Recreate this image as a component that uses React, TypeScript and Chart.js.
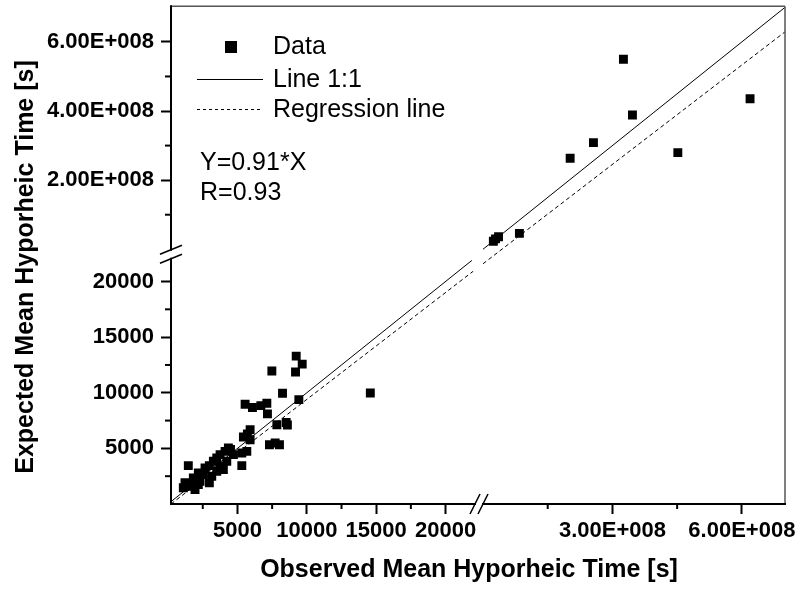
import React, { useEffect, useRef } from "react";
import { Chart, registerables } from "chart.js";

Chart.register(...registerables);

const FONT = "'Liberation Sans', Arial, Helvetica, sans-serif";

// ---- data: lower (small) segment, seconds ----
const lowObserved = [
  9235, 9668, 9186, 7480, 8248, 9426, 14578, 5552, 6081, 6686, 7119, 7163, 7841, 8513, 8600,
  7307, 7718, 8029, 5913, 5718, 5430, 5913, 5675, 5314, 5314, 4347, 4708, 4108, 3747, 3509,
  3264, 2975, 3509, 2975, 2542, 2181, 1820, 1458, 1220, 1098, 1581, 1942, 3985, 4231, 3747,
  2664, 3148, 2181, 4500, 2303,
];
const lowExpected = [
  13292, 12577, 11861, 11950, 9956, 9384, 9983, 8971, 8668, 8847, 9061, 8104, 7120, 7326, 7100,
  5331, 5483, 5331, 6673, 6288, 6020, 5779, 4732, 4589, 3453, 5036, 4437, 4732, 4437, 4141,
  3837, 3453, 2943, 1905, 2648, 2800, 2352, 3453, 1905, 1458, 1601, 1306, 3095, 3837, 3390,
  3247, 2496, 1753, 4900, 2048,
];
// ---- data: upper (large) segment, seconds ----
const highObserved = [3.255e8, 3.464e8, 2.56e8, 2.02e8, 4.516e8, 6.19e8, 0.844e8, 0.24e8, 0.36e8, 0.29e8];
const highExpected = [5.5e8, 3.885e8, 3.085e8, 2.635e8, 2.797e8, 4.355e8, 0.459e8, 0.23e8, 0.36e8, 0.3e8];

// ---- reference lines ----
const oneToOneLowX = [210, 21900];
const oneToOneLowY = [210, 21900];
const oneToOneHighX = [0, 7.0e8];
const oneToOneHighY = [0, 7.0e8];
const regressionLowX = [210, 21990];
const regressionLowY = [0, 20920];
const regressionHighX = [0, 7.0e8];
const regressionHighY = [-0.42e8, 6.29e8];

// ---- axis ranges and ticks ----
const lowXRange = [210, 22700];
const lowYRange = [0, 22900];
const highXRange = [0, 7.0e8];
const highYRange = [0, 7.03e8];

const lowTickValues = [5000, 10000, 15000, 20000];
const lowTickLabels = ["5000", "10000", "15000", "20000"];
const lowMinorTicks = [2500, 7500, 12500, 17500];
const highXTickValues = [3e8, 6e8];
const highXTickLabels = ["3.00E+008", "6.00E+008"];
const highXMinorTicks = [1.5e8, 4.5e8];
const highYTickValues = [2e8, 4e8, 6e8];
const highYTickLabels = ["2.00E+008", "4.00E+008", "6.00E+008"];
const highYMinorTicks = [1e8, 3e8, 5e8];

const xTitle = "Observed Mean Hyporheic Time [s]";
const yTitle = "Expected Mean Hyporheic Time [s]";
const legendLabels = ["Data", "Line 1:1", "Regression line"];
const annotations = ["Y=0.91*X", "R=0.93"];

const pairs = (xs: number[], ys: number[]) => xs.map((x, i) => ({ x, y: ys[i] }));

function makeScale(
  position: string,
  stack: string,
  weight: number,
  range: number[],
  values: number[],
  labels: string[],
  isX: boolean
) {
  return {
    type: "linear",
    position,
    stack,
    stackWeight: weight,
    min: range[0],
    max: range[1],
    grid: {
      display: true,
      drawOnChartArea: false,
      drawTicks: true,
      tickLength: 10,
      tickWidth: 2,
      tickColor: "#000",
    },
    border: { display: false },
    afterBuildTicks: (s: any) => {
      s.ticks = values.map((v) => ({ value: v }));
    },
    afterFit: (s: any) => {
      if (isX) s.height = 86;
      else s.width = 171;
      s.paddingTop = 0;
      s.paddingBottom = 0;
      s.paddingLeft = 0;
      s.paddingRight = 0;
    },
    ticks: {
      autoSkip: false,
      maxRotation: 0,
      minRotation: 0,
      padding: isX ? 4 : 7,
      color: "#000",
      font: { family: FONT, size: 22, weight: "bold" },
      callback: (_v: any, i: number) => labels[i],
    },
  };
}

const decorPlugin = {
  id: "decor",
  afterDraw(chart: any) {
    const ctx = chart.ctx as CanvasRenderingContext2D;
    const a = chart.chartArea;
    const s = chart.scales;
    ctx.save();

    const seg = (x1: number, y1: number, x2: number, y2: number) => {
      ctx.beginPath();
      ctx.moveTo(x1, y1);
      ctx.lineTo(x2, y2);
      ctx.stroke();
    };

    // minor ticks
    ctx.strokeStyle = "#000";
    ctx.lineWidth = 2;
    lowMinorTicks.forEach((v) => {
      const px = s.xLow.getPixelForValue(v);
      seg(px, a.bottom, px, a.bottom + 5);
      const py = s.yLow.getPixelForValue(v);
      seg(a.left - 6, py, a.left, py);
    });
    highXMinorTicks.forEach((v) => {
      const px = s.xHigh.getPixelForValue(v);
      seg(px, a.bottom, px, a.bottom + 5);
    });
    highYMinorTicks.forEach((v) => {
      const py = s.yHigh.getPixelForValue(v);
      seg(a.left - 6, py, a.left, py);
    });

    // frame: top & right thin grey
    ctx.strokeStyle = "#555";
    ctx.lineWidth = 1.5;
    seg(a.left, a.top, a.right, a.top);
    seg(a.right, a.top, a.right, a.bottom);
    // left & bottom axes
    ctx.strokeStyle = "#000";
    ctx.lineWidth = 2;
    seg(a.left, a.top - 1, a.left, a.bottom + 1);
    seg(a.left - 1, a.bottom, a.right + 1, a.bottom);

    // axis breaks
    const yc = s.yHigh.bottom + 5;
    const xc = s.xLow.right - 4;
    ctx.fillStyle = "#fff";
    ctx.fillRect(a.left - 2, yc - 3.5, 4, 7);
    ctx.fillRect(xc - 3, a.bottom - 2, 6, 4);
    ctx.strokeStyle = "#000";
    ctx.lineWidth = 1.5;
    [-4.5, 4.5].forEach((d) => seg(a.left - 11, yc + d + 4.5, a.left + 11, yc + d - 4.5));
    [-4, 4].forEach((d) => seg(xc + d - 5, a.bottom + 10, xc + d + 5, a.bottom - 10));

    // legend
    ctx.fillStyle = "#000";
    ctx.fillRect(225, 41, 12, 12);
    ctx.lineWidth = 1;
    seg(197, 79.5, 263, 79.5);
    ctx.setLineDash([3, 3]);
    seg(197, 109.5, 261, 109.5);
    ctx.setLineDash([]);
    ctx.font = `25px ${FONT}`;
    ctx.textBaseline = "middle";
    ctx.textAlign = "left";
    ctx.fillText(legendLabels[0], 273, 47);
    ctx.fillText(legendLabels[1], 273, 80);
    ctx.fillText(legendLabels[2], 273, 110);
    ctx.fillText(annotations[0], 200, 163);
    ctx.fillText(annotations[1], 200, 193);

    // axis titles
    ctx.font = `bold 25px ${FONT}`;
    ctx.textAlign = "center";
    ctx.fillText(xTitle, 469, 570);
    ctx.save();
    ctx.translate(26, 267);
    ctx.rotate(-Math.PI / 2);
    ctx.fillText(yTitle, 0, 0);
    ctx.restore();

    ctx.restore();
  },
};

export default function App() {
  const ref = useRef<HTMLCanvasElement | null>(null);

  useEffect(() => {
    if (!ref.current) return;
    const lineBase = {
      type: "line",
      showLine: true,
      pointRadius: 0,
      borderColor: "#000",
      borderWidth: 1,
      fill: false,
      clip: false,
    };
    const chart = new Chart(ref.current, {
      type: "scatter",
      data: {
        datasets: [
          {
            label: "Data",
            data: pairs(lowObserved, lowExpected),
            xAxisID: "xLow",
            yAxisID: "yLow",
            pointStyle: "rect",
            pointRadius: 6.3,
            borderWidth: 0,
            backgroundColor: "#000",
          },
          {
            label: "Data (large)",
            data: pairs(highObserved, highExpected),
            xAxisID: "xHigh",
            yAxisID: "yHigh",
            pointStyle: "rect",
            pointRadius: 6.3,
            borderWidth: 0,
            backgroundColor: "#000",
          },
          { ...lineBase, label: "Line 1:1", data: pairs(oneToOneLowX, oneToOneLowY), xAxisID: "xLow", yAxisID: "yLow" },
          { ...lineBase, label: "Line 1:1 (large)", data: pairs(oneToOneHighX, oneToOneHighY), xAxisID: "xHigh", yAxisID: "yHigh" },
          {
            ...lineBase,
            label: "Regression line",
            data: pairs(regressionLowX, regressionLowY),
            xAxisID: "xLow",
            yAxisID: "yLow",
            borderDash: [4, 3],
          },
          {
            ...lineBase,
            label: "Regression line (large)",
            data: pairs(regressionHighX, regressionHighY),
            xAxisID: "xHigh",
            yAxisID: "yHigh",
            borderDash: [4, 3],
          },
        ] as any,
      },
      options: {
        animation: false,
        responsive: true,
        maintainAspectRatio: false,
        layout: { padding: { left: 0, top: 5, right: 15, bottom: 0 } },
        plugins: { legend: { display: false }, tooltip: { enabled: false } },
        scales: {
          xLow: makeScale("bottom", "xs", 312, lowXRange, lowTickValues, lowTickLabels, true),
          xHigh: makeScale("bottom", "xs", 302, highXRange, highXTickValues, highXTickLabels, true),
          yLow: makeScale("left", "ys", 255.4, lowYRange, lowTickValues, lowTickLabels, false),
          yHigh: makeScale("left", "ys", 243.6, highYRange, highYTickValues, highYTickLabels, false),
        } as any,
      },
      plugins: [decorPlugin],
    } as any);
    return () => chart.destroy();
  }, []);

  return (
    <div style={{ position: "absolute", left: 0, top: 0, width: 800, height: 590, background: "#fff" }}>
      <canvas ref={ref} />
    </div>
  );
}
